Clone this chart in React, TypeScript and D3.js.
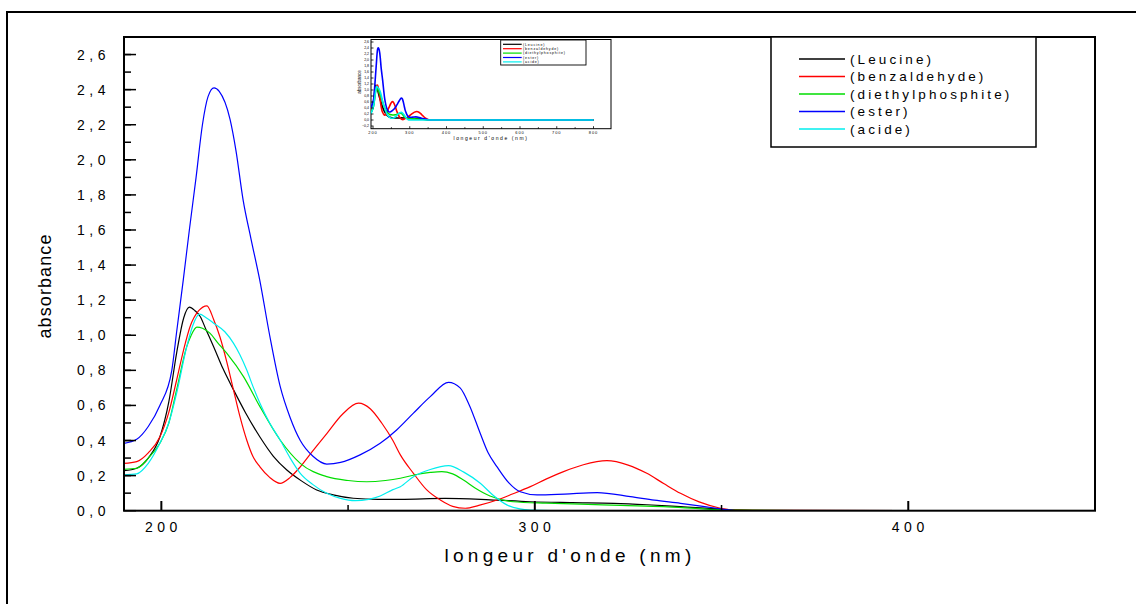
import React from 'react';
import * as d3 from 'd3';

type Pt = [number, number];

// wavelength (nm), absorbance
const leucine: Pt[] = [
  [190, 0.228], [193.4, 0.242], [196.5, 0.3], [199.6, 0.42], [202, 0.62], [204.1, 0.9], [206, 1.1],
  [207.5, 1.16], [209, 1.14], [210.4, 1.107], [212, 1.03], [214, 0.935], [216.5, 0.81], [219.3, 0.69],
  [222.5, 0.56], [226.4, 0.42], [230, 0.31], [233.6, 0.232], [237.5, 0.17], [241.6, 0.118], [246, 0.09],
  [251.4, 0.071], [258, 0.065], [264, 0.065], [276, 0.07], [288, 0.062], [298.8, 0.051], [310, 0.046],
  [321.1, 0.042], [330, 0.034], [339, 0.023], [350.6, 0.008], [360, 0.002], [400, 0], [450, 0], [800, 0],
];
const benzaldehyde: Pt[] = [
  [190, 0.27], [193.4, 0.28], [196.5, 0.33], [199.6, 0.42], [202, 0.56], [204.1, 0.745], [206, 0.92],
  [207.7, 1.05], [210, 1.14], [212.2, 1.168], [214, 1.09], [215.7, 0.99], [217.5, 0.85], [219.3, 0.69],
  [221, 0.54], [222.9, 0.4], [224.5, 0.31], [226.4, 0.25], [229, 0.19], [231.8, 0.156], [234.5, 0.19],
  [237.2, 0.25], [240.5, 0.34], [244.3, 0.44], [248.5, 0.55], [252.8, 0.613], [256, 0.58], [259, 0.5],
  [262, 0.4], [264, 0.318], [267.5, 0.213], [271, 0.12], [274.7, 0.061], [278, 0.025], [281.4, 0.014],
  [285, 0.03], [289.9, 0.061], [294, 0.095], [298.8, 0.137], [303, 0.18], [307.7, 0.223], [313, 0.262],
  [319.3, 0.285], [325, 0.26], [330, 0.213], [334.5, 0.155], [339, 0.099], [344, 0.05], [349.7, 0.014],
  [355, 0.003], [400, 0], [450, 0], [800, 0],
];
const diethylphosphite: Pt[] = [
  [190, 0.236], [193.4, 0.242], [196.5, 0.3], [199.6, 0.384], [202, 0.5], [204.1, 0.69], [206.8, 0.935],
  [208, 1.0], [209.5, 1.046], [211, 1.04], [213, 1.012], [215, 0.96], [217.5, 0.898], [222, 0.764],
  [226.4, 0.593], [231.8, 0.403], [237.2, 0.27], [244.3, 0.194], [250, 0.172], [255, 0.165], [260, 0.172],
  [264, 0.185], [268, 0.205], [272, 0.218], [275.1, 0.223], [278, 0.21], [280.9, 0.175], [284, 0.13],
  [288, 0.084], [294.2, 0.051], [303, 0.043], [312.2, 0.038], [323, 0.03], [334.5, 0.023], [345, 0.01],
  [352, 0.003], [370, 0], [450, 0], [800, 0],
];
const ester: Pt[] = [
  [190, 0.384], [193.4, 0.407], [196.5, 0.48], [199.6, 0.6], [202.8, 0.8], [204.1, 1.02], [205.9, 1.32],
  [207.5, 1.6], [209.3, 1.9], [211, 2.2], [212.5, 2.36], [214.1, 2.41], [215.5, 2.39], [218.4, 2.23],
  [220, 2.05], [221.9, 1.77], [224, 1.55], [226.3, 1.32], [229, 1.0], [231.8, 0.71], [234.5, 0.53],
  [237.2, 0.4], [240.6, 0.31], [244.3, 0.266], [248, 0.275], [253.2, 0.318], [258.6, 0.384], [263, 0.46],
  [267.5, 0.556], [272, 0.65], [276.9, 0.732], [280, 0.7], [282.5, 0.6], [285.4, 0.44], [287.5, 0.33],
  [289.9, 0.25], [293, 0.16], [296.1, 0.108], [300.6, 0.09], [308, 0.095], [316.7, 0.103], [325.6, 0.08],
  [332, 0.06], [339, 0.042], [345, 0.025], [350.6, 0.008], [356.8, -0.003], [365, 0], [450, 0], [800, 0],
];
const acide: Pt[] = [
  [190, 0.204], [193.4, 0.21], [196.5, 0.27], [199.6, 0.384], [202, 0.5], [204.1, 0.67], [206.8, 0.935],
  [208.5, 1.06], [210.2, 1.12], [212, 1.1], [214, 1.069], [217, 1.02], [219.3, 0.955], [221, 0.89],
  [222.9, 0.8], [224.5, 0.71], [226.4, 0.613], [229, 0.5], [231.8, 0.403], [234.5, 0.3], [237.2, 0.213],
  [240.5, 0.15], [244.3, 0.099], [248, 0.07], [251.9, 0.057], [255.5, 0.065], [258.6, 0.084], [262, 0.12],
  [264, 0.137], [267.5, 0.194], [272, 0.235], [276.9, 0.257], [281, 0.22], [285.4, 0.156], [289, 0.085],
  [292.5, 0.033], [296, 0.01], [298.8, 0.004], [310, 0], [450, 0], [800, 0],
];

const seriesNames = ['(Leucine)', '(benzaldehyde)', '(diethylphosphite)', '(ester)', '(acide)'];
const seriesData = [leucine, benzaldehyde, diethylphosphite, ester, acide];
const seriesColors = ['#000000', '#ff0000', '#00dd00', '#0000ff', '#00eeee'];

const xMajor = [200, 300, 400];
const xMinor = [250, 350];
const insetXMajor = [200, 300, 400, 500, 600, 700, 800];
const insetXMinor = [250, 350, 450, 550, 650, 750];

const FONT = 'Liberation Sans, Arial, sans-serif';
const comma = (v: number) => d3.format('.1f')(v).replace('.', ',');

export default function App() {
  // main plot
  const x = d3.scaleLinear().domain([190, 450]).range([124, 1095]);
  const y = d3.scaleLinear().domain([0, 2.7]).range([510.7, 37]);
  const line = d3.line<Pt>().x(d => x(d[0])).y(d => y(d[1])).curve(d3.curveMonotoneX);
  const yMajor = d3.range(0, 14).map(i => i * 0.2);
  const yMinor = d3.range(0, 27).map(i => i * 0.1 + 0.1).filter(v => v < 2.7);

  // inset
  const ix = d3.scaleLinear().domain([200, 800]).range([373, 593.5]);
  const iy = d3.scaleLinear().domain([-0.2, 2.6]).range([126, 42]);
  const iline = d3.line<Pt>().x(d => ix(d[0])).y(d => iy(d[1])).curve(d3.curveMonotoneX);
  const iyTicks = d3.range(0, 15).map(i => -0.2 + i * 0.2);
  const iLeft = 371, iRight = 611, iTop = 39.5, iBottom = 128.7;

  return (
    <svg width={1136} height={604} style={{ position: 'absolute', left: 0, top: 0, background: '#fff' }}
      fontFamily={FONT}>
      <defs>
        <clipPath id="plotClip">
          <rect x={124} y={37} width={971} height={474} />
        </clipPath>
        <clipPath id="insetClip">
          <rect x={iLeft} y={iTop} width={iRight - iLeft} height={iBottom - iTop} />
        </clipPath>
      </defs>
      {/* outer frame */}
      <rect x={7} y={12} width={1140} height={620} fill="none" stroke="#000" strokeWidth={2} />

      {/* curves */}
      <g clipPath="url(#plotClip)">
        {seriesData.map((s, i) => (
          <path key={i} d={line(s) || ''} fill="none" stroke={seriesColors[i]} strokeWidth={1.2} />
        ))}
      </g>

      {/* y axis ticks */}
      {yMinor.map(v => (
        <line key={'ym' + v} x1={124} x2={131} y1={y(v)} y2={y(v)} stroke="#000" strokeWidth={1.5} />
      ))}
      {yMajor.map(v => (
        <g key={'yM' + v}>
          <line x1={124} x2={136} y1={y(v)} y2={y(v)} stroke="#000" strokeWidth={1.5} />
          <text x={110} y={y(v)} dy="0.36em" textAnchor="end" fontSize={14} letterSpacing={4.5}>{comma(v)}</text>
        </g>
      ))}
      {/* x axis ticks */}
      {xMinor.map(v => (
        <line key={'xm' + v} x1={x(v)} x2={x(v)} y1={510.7} y2={505} stroke="#000" strokeWidth={1.5} />
      ))}
      {xMajor.map(v => (
        <g key={'xM' + v}>
          <line x1={x(v)} x2={x(v)} y1={510.7} y2={501} stroke="#000" strokeWidth={2} />
          <text x={x(v) + 2} y={532} textAnchor="middle" fontSize={14} letterSpacing={4.5}>{v}</text>
        </g>
      ))}

      {/* plot frame */}
      <rect x={124} y={37} width={971} height={473.7} fill="none" stroke="#000" strokeWidth={2} />

      <text x={570} y={562} textAnchor="middle" fontSize={19} letterSpacing={4.3}>longeur d'onde (nm)</text>
      <text transform="translate(51,286) rotate(-90)" textAnchor="middle" fontSize={18} letterSpacing={1.1}>absorbance</text>

      {/* legend */}
      <rect x={771} y={37} width={265} height={110} fill="#fff" stroke="#000" strokeWidth={1.5} />
      {seriesNames.map((n, i) => (
        <g key={n}>
          <line x1={799} x2={845} y1={59 + i * 17.5} y2={59 + i * 17.5} stroke={seriesColors[i]} strokeWidth={1.5} />
          <text x={850} y={59 + i * 17.5} dy="0.36em" fontSize={13.5} letterSpacing={3.1}>{n}</text>
        </g>
      ))}

      {/* inset */}
      <rect x={iLeft} y={iTop} width={iRight - iLeft} height={iBottom - iTop} fill="#fff" stroke="#000" strokeWidth={1} />
      <g clipPath="url(#insetClip)">
        {seriesData.map((s, i) => (
          <path key={i} d={iline(s) || ''} fill="none" stroke={seriesColors[i]} strokeWidth={1.6} />
        ))}
      </g>
      {iyTicks.map(v => (
        <g key={'iy' + v}>
          <line x1={iLeft} x2={iLeft + 2.5} y1={iy(v)} y2={iy(v)} stroke="#000" strokeWidth={0.8} />
          <text x={iLeft - 2} y={iy(v)} dy="0.36em" textAnchor="end" fontSize={3.5}>{comma(v)}</text>
        </g>
      ))}
      {insetXMinor.map(v => (
        <line key={'ixm' + v} x1={ix(v)} x2={ix(v)} y1={iBottom} y2={iBottom - 1.5} stroke="#000" strokeWidth={0.8} />
      ))}
      {insetXMajor.map(v => (
        <g key={'ixM' + v}>
          <line x1={ix(v)} x2={ix(v)} y1={iBottom} y2={iBottom - 2.5} stroke="#000" strokeWidth={0.8} />
          <text x={ix(v)} y={iBottom + 5} textAnchor="middle" fontSize={4} letterSpacing={1}>{v}</text>
        </g>
      ))}
      <text x={491} y={139.5} textAnchor="middle" fontSize={5} letterSpacing={1.6}>longeur d'onde (nm)</text>
      <text transform="translate(361,82) rotate(-90)" textAnchor="middle" fontSize={4.5}>absorbance</text>
      <rect x={500.7} y={40} width={85.3} height={25} fill="#fff" stroke="#000" strokeWidth={0.9} />
      {seriesNames.map((n, i) => (
        <g key={'il' + n}>
          <line x1={503} x2={521.7} y1={44.3 + i * 4.4} y2={44.3 + i * 4.4} stroke={seriesColors[i]} strokeWidth={1.2} />
          <text x={523} y={44.3 + i * 4.4} dy="0.36em" fontSize={3.6} letterSpacing={0.8}>{n}</text>
        </g>
      ))}
    </svg>
  );
}
